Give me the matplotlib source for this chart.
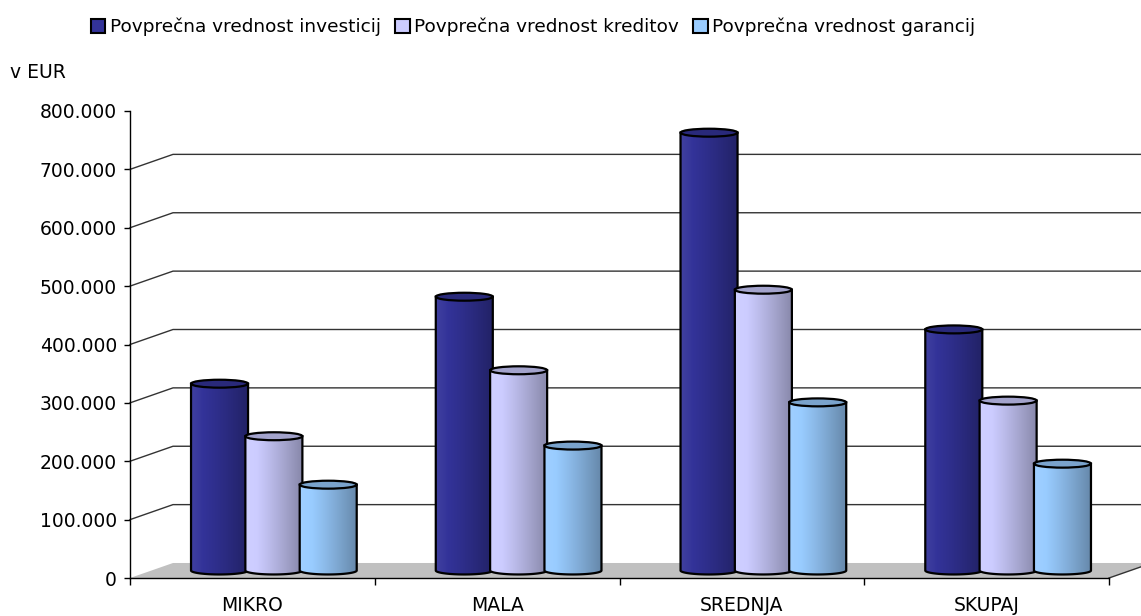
import numpy as np
import matplotlib.pyplot as plt
from matplotlib.patches import Polygon, Ellipse, PathPatch, Patch
from matplotlib.path import Path
from matplotlib.colors import to_rgb

categories = ['MIKRO', 'MALA', 'SREDNJA', 'SKUPAJ']
series_names = ['Povprečna vrednost investicij',
                'Povprečna vrednost kreditov',
                'Povprečna vrednost garancij']
investicije = [320000, 469000, 750000, 413000]
krediti = [230000, 343000, 481000, 291000]
garancije = [147000, 214000, 288000, 183000]
series_colors = ['#333399', '#CCCCFF', '#99CCFF']
yticks = np.arange(0, 800001, 100000)

plt.rcParams['font.family'] = 'DejaVu Sans'

fig = plt.figure(figsize=(11.41, 6.16), dpi=100)
ax = fig.add_axes([130 / 1141, 38 / 616, 979 / 1141, 467 / 616])
ax.set_xlim(0, len(categories))
ax.set_ylim(0, 800000)

# fake 3d depth (in data units)
DX = 0.1757
DY = 25700
n = len(categories)


def shade(color, t):
    rgb = np.array(to_rgb(color))
    s = 1.06 - 0.40 * t ** 1.2
    out = np.empty((1, len(t), 3))
    for k, sv in enumerate(s):
        if sv > 1:
            out[0, k] = rgb + (1 - rgb) * (sv - 1)
        else:
            out[0, k] = rgb * sv
    return np.clip(out, 0, 1)


def cylinder(xc, w, h, base, color, b, z):
    x0, x1 = xc - w / 2, xc + w / 2
    top = base + h
    t = np.linspace(np.pi, 2 * np.pi, 60)
    verts = [(x0, top)] + list(zip(xc + w / 2 * np.cos(t), base + b * np.sin(t)))
    verts += [(x1, top), (x0, top)]
    body = PathPatch(Path(verts, closed=True), facecolor='none',
                     edgecolor='black', lw=1.6, zorder=z + 0.1)
    ax.add_patch(body)
    img = shade(color, np.linspace(0, 1, 200))
    im = ax.imshow(img, extent=[x0, x1, base - b, top], aspect='auto',
                   interpolation='bilinear', zorder=z)
    im.set_clip_path(body)
    top_col = np.array(to_rgb(color)) * 0.8
    ax.add_patch(Ellipse((xc, top), w, 2 * b, facecolor=top_col,
                         edgecolor='black', lw=1.6, zorder=z + 0.2))


# floor
ax.add_patch(Polygon([(0, 0), (n, 0), (n + DX, DY), (DX, DY)],
                     facecolor='#C0C0C0', edgecolor='none',
                     clip_on=False, zorder=1))
ax.plot([n, n + DX], [0, DY], color='#333333', lw=1, clip_on=False, zorder=1.5)

# back wall gridlines
for v in yticks[1:-1]:
    ax.plot([0, DX, n + DX + 0.3], [v, v + DY, v + DY], color='#333333',
            lw=1, clip_on=False, zorder=2)

# cylinders
all_series = [investicije, krediti, garancije]
w = 0.233
step = 0.222
for j, (vals, col) in enumerate(zip(all_series, series_colors)):
    for i, v in enumerate(vals):
        xc = i + 0.5 + DX / 2 + (j - 1) * step
        cylinder(xc, w, v, DY / 2, col, 6800, 3 + j)

ax.set_xlim(0, n)
ax.set_ylim(0, 800000)

# axes
for s in ['top', 'right']:
    ax.spines[s].set_visible(False)
for s in ['left', 'bottom']:
    ax.spines[s].set_linewidth(1)
    ax.spines[s].set_zorder(10)

ax.set_yticks(yticks)
ax.set_yticklabels([f'{v:,}'.replace(',', '.') for v in yticks])
ax.tick_params(axis='y', direction='out', length=4.3, width=1, pad=5,
               labelsize=13.5)
ax.set_xticks(np.arange(0, n + 1))
ax.set_xticklabels([])
ax.tick_params(axis='x', which='major', direction='out', length=5, width=1)
ax.set_xticks(np.arange(n) + 0.5, minor=True)
ax.set_xticklabels(categories, minor=True)
ax.tick_params(axis='x', which='minor', length=0, pad=13, labelsize=13.5)

fig.text(10 / 1141, 1 - 72 / 616, 'v EUR', va='center', ha='left', fontsize=13.5)

handles = [Patch(facecolor=c, edgecolor='black', lw=1.5) for c in series_colors]
fig.legend(handles, series_names, loc='center', bbox_to_anchor=(533 / 1141, 1 - 27 / 616),
           ncol=3, frameon=False, fontsize=13.3, handlelength=0.8, handleheight=0.8,
           handletextpad=0.25, columnspacing=0.75, borderpad=0)

fig.savefig('out.png', dpi=100)
